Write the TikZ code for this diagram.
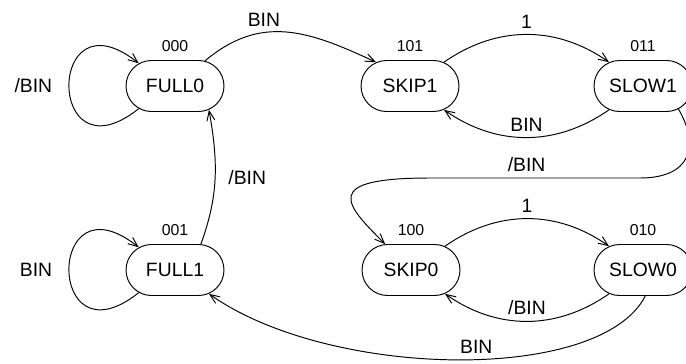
\documentclass[tikz,border=0pt]{standalone}
\usepackage{fontspec}
\setmainfont{Liberation Sans}
\usepackage{tikz}
\usetikzlibrary{shapes.misc,arrows.meta}
\tikzset{
  stato/.style={draw, rounded rectangle, minimum width=1.96cm, minimum height=1.02cm,
    inner sep=0pt, font=\fontsize{11}{12}\selectfont},
  codice/.style={font=\fontsize{9}{10}\selectfont},
  etich/.style={font=\fontsize{11}{12}\selectfont}
}

\begin{document}
\begin{tikzpicture}[x=0.02cm, y=0.02cm, line width=0.55pt,
    >={Straight Barb[length=5.5pt,width=4.5pt]},
    every label/.style={label distance=1pt}]
        \useasboundingbox (0,0) rectangle (686,363);
        % Stati
        \node[stato, label={[codice]above:000}] (full0) at (175,277) {FULL0};
        \node[stato, label={[codice]above:101}] (skip1) at (410,277) {SKIP1};
        \node[stato, label={[codice]above:011}] (slow1) at (643,277) {SLOW1};
        \node[stato, label={[codice]above:001}] (full1) at (175,93) {FULL1};
        \node[stato, label={[codice]above:100}] (skip0) at (411,93) {SKIP0};
        \node[stato, label={[codice]above:010}] (slow0) at (643,93) {SLOW0};
        % Anelli
        \draw[->] (full0.212) .. controls +(-93,-74) and +(-93,74) .. node[etich,left=6pt]{/BIN} (full0.148);
        \draw[->] (full1.212) .. controls +(-93,-74) and +(-93,74) .. node[etich,left=6pt]{BIN} (full1.148);
        % Riga superiore
        \draw[->] (full0.40) to[out=40,in=155,looseness=1.1] node[etich,pos=.36,above]{BIN} (skip1.145);
        \draw[->] (skip1.35) to[out=35,in=145] node[etich,above]{1} (slow1.145);
        \draw[->] (slow1.-145) to[out=-145,in=-35] node[etich,above]{BIN} (skip1.-35);
        % Riga inferiore
        \draw[->] (skip0.35) to[out=35,in=145] node[etich,above]{1} (slow0.145);
        \draw[->] (slow0.-145) to[out=-145,in=-35] node[etich,above]{/BIN} (skip0.-35);
        % Archi lunghi
        \draw[->] (slow1.-33) .. controls +(22,-38) and +(50,0) .. (640,185)
            -- node[etich,pos=.54,above]{/BIN} (430,185)
            .. controls +(-110,0) and +(-40,40) .. (skip0.135);
        \draw[->] (slow0.-85) .. controls +(-45,-88) and +(120,-85) .. node[etich,pos=.46,above]{BIN} (full1.-35);
        \draw[->] (full1.45) to[out=70,in=-80] node[etich,right=4pt]{/BIN} (full0.-35);
    \end{tikzpicture}
\end{document}
